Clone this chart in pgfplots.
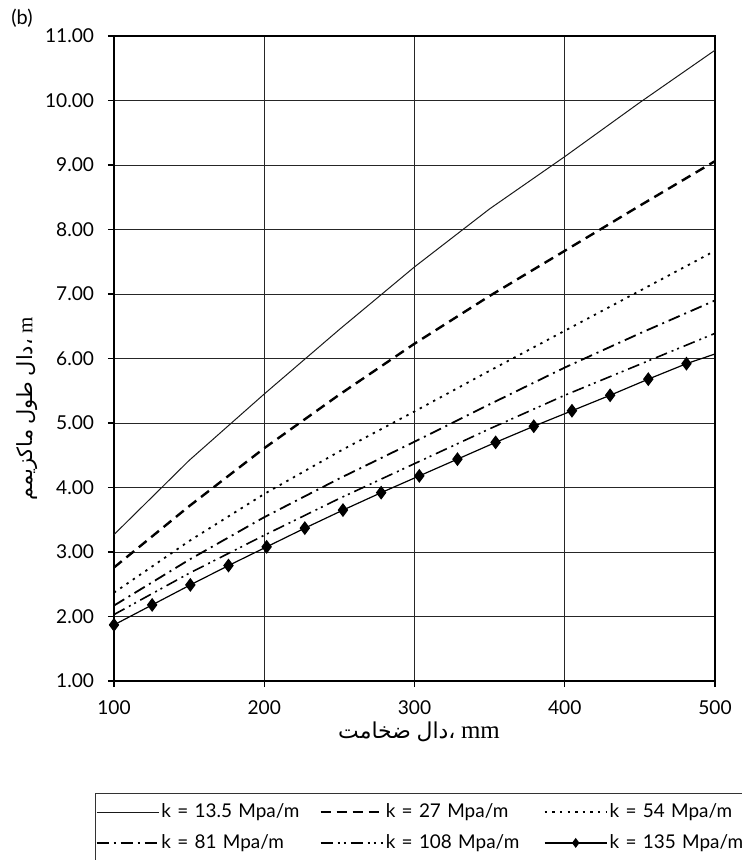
\documentclass[border=0pt]{standalone}
\usepackage{pgfplots}
\pgfplotsset{compat=1.18}
\usepackage{fontspec}
\setmainfont{Lato}
\newfontfamily\arabicfont[Script=Arabic]{DejaVu Sans}
\newfontfamily\seriffont{Liberation Serif}
\TeXXeTstate=1
\newcommand{\rw}[1]{\mbox{\arabicfont\beginR #1\endR}}
\pgfplotsset{diamondlegend/.style={legend image code/.code={\draw[##1, mark indices={2}, mark size=2bp] plot coordinates {(0bp,0bp)(15.5bp,0bp)(31bp,0bp)};}}}

\begin{document}
\begin{tikzpicture}[x=1bp,y=1bp]
\path[use as bounding box] (0,0) rectangle (371,-430);
\begin{axis}[
  at={(57bp,-340.5bp)}, anchor=south west,
  scale only axis, width=300.5bp, height=322.5bp,
  xmin=100, xmax=500, ymin=1, ymax=11,
  xtick={100,200,300,400,500}, ytick={1,2,3,4,5,6,7,8,9,10,11},
  xtick pos=left, ytick pos=left,
  grid=major, major grid style={black!85, line width=0.5bp},
  axis line style={line width=1.2bp},
  tick align=outside, major tick length=3bp, tick style={black, line width=0.6bp},
  /pgf/number format/assume math mode=true,
  ticklabel style={font=\fontsize{9.6}{12}\selectfont},
  yticklabel={\pgfmathprintnumber[fixed,fixed zerofill,precision=2]{\tick}},
  yticklabel style={xshift=-3.5bp},
  xticklabel style={yshift=-3.5bp},
  clip=false,
  legend columns=3,
  legend image code/.code={\draw[#1] (0bp,0bp) -- (31bp,0bp);},
  legend style={at={(axis description cs:-0.0316,-0.1736)}, anchor=north west,
    draw=black!80, line width=0.6bp, font=\fontsize{9.5}{11}\selectfont,
    inner xsep=0bp, inner ysep=3bp, row sep=3bp,
    nodes={text width=73bp, align=left, inner xsep=1bp},
    /tikz/every even column/.append style={column sep=5bp}},
]
\addplot[black!90, line width=0.5bp] coordinates {
(100,3.27) (150,4.42) (200,5.45) (250,6.45) (300,7.42) (350,8.32) (400,9.13) (450,9.97) (500,10.78)};
\addlegendentry{k = 13.5 Mpa/m}
\addplot[black, line width=1.2bp, dash pattern=on 5bp off 3bp] coordinates {
(100,2.76) (150,3.71) (200,4.61) (250,5.44) (300,6.23) (350,6.97) (400,7.67) (450,8.37) (500,9.06)};
\addlegendentry{k = 27 Mpa/m}
\addplot[black, line width=0.9bp, dash pattern=on 1.2bp off 2.6bp] coordinates {
(100,2.37) (150,3.17) (200,3.90) (250,4.56) (300,5.18) (350,5.81) (400,6.43) (450,7.05) (500,7.67)};
\addlegendentry{k = 54 Mpa/m}
\addplot[black, line width=0.9bp, dash pattern=on 6bp off 2.5bp on 1bp off 2.5bp] coordinates {
(100,2.17) (150,2.88) (200,3.54) (250,4.14) (300,4.71) (350,5.29) (400,5.86) (450,6.39) (500,6.90)};
\addlegendentry{k = 81 Mpa/m}
\addplot[black, line width=0.8bp, dash pattern=on 6bp off 2.5bp on 1bp off 2bp on 1bp off 2.5bp] coordinates {
(100,2.03) (150,2.67) (200,3.26) (250,3.83) (300,4.37) (350,4.91) (400,5.43) (450,5.91) (500,6.39)};
\addlegendentry{k = 108 Mpa/m}
\addplot[black, line width=0.6bp, mark=diamond*, mark size=3bp, mark options={solid},
  mark indices={1,2,3,4,5,6,7,8,9,10,11,12,13,14,15,16}, diamondlegend] coordinates {
(100,1.87) (125.4,2.18) (150.8,2.49) (176.2,2.79) (201.6,3.08) (227,3.37) (252.4,3.65) (277.8,3.92)
(303.2,4.18) (328.6,4.44) (354,4.70) (379.4,4.95) (404.8,5.19) (430.2,5.43) (455.6,5.68) (481,5.92) (500,6.07)};
\addlegendentry{k = 135 Mpa/m}
\end{axis}
\node[font=\fontsize{10}{12}\selectfont] at (11,-9) {(b)};
\node[rotate=90, font=\fontsize{10.5}{13}\selectfont] at (13.5,-204.5) {\rw{ماکزیمم} \rw{طول} \rw{دال}\rw{،} {\seriffont m}};
\node[font=\fontsize{11}{13}\selectfont] at (209.5,-366) {\rw{ضخامت} \rw{دال}\rw{،} {\seriffont\fontsize{12.5}{14}\selectfont mm}};
\end{tikzpicture}
\end{document}
